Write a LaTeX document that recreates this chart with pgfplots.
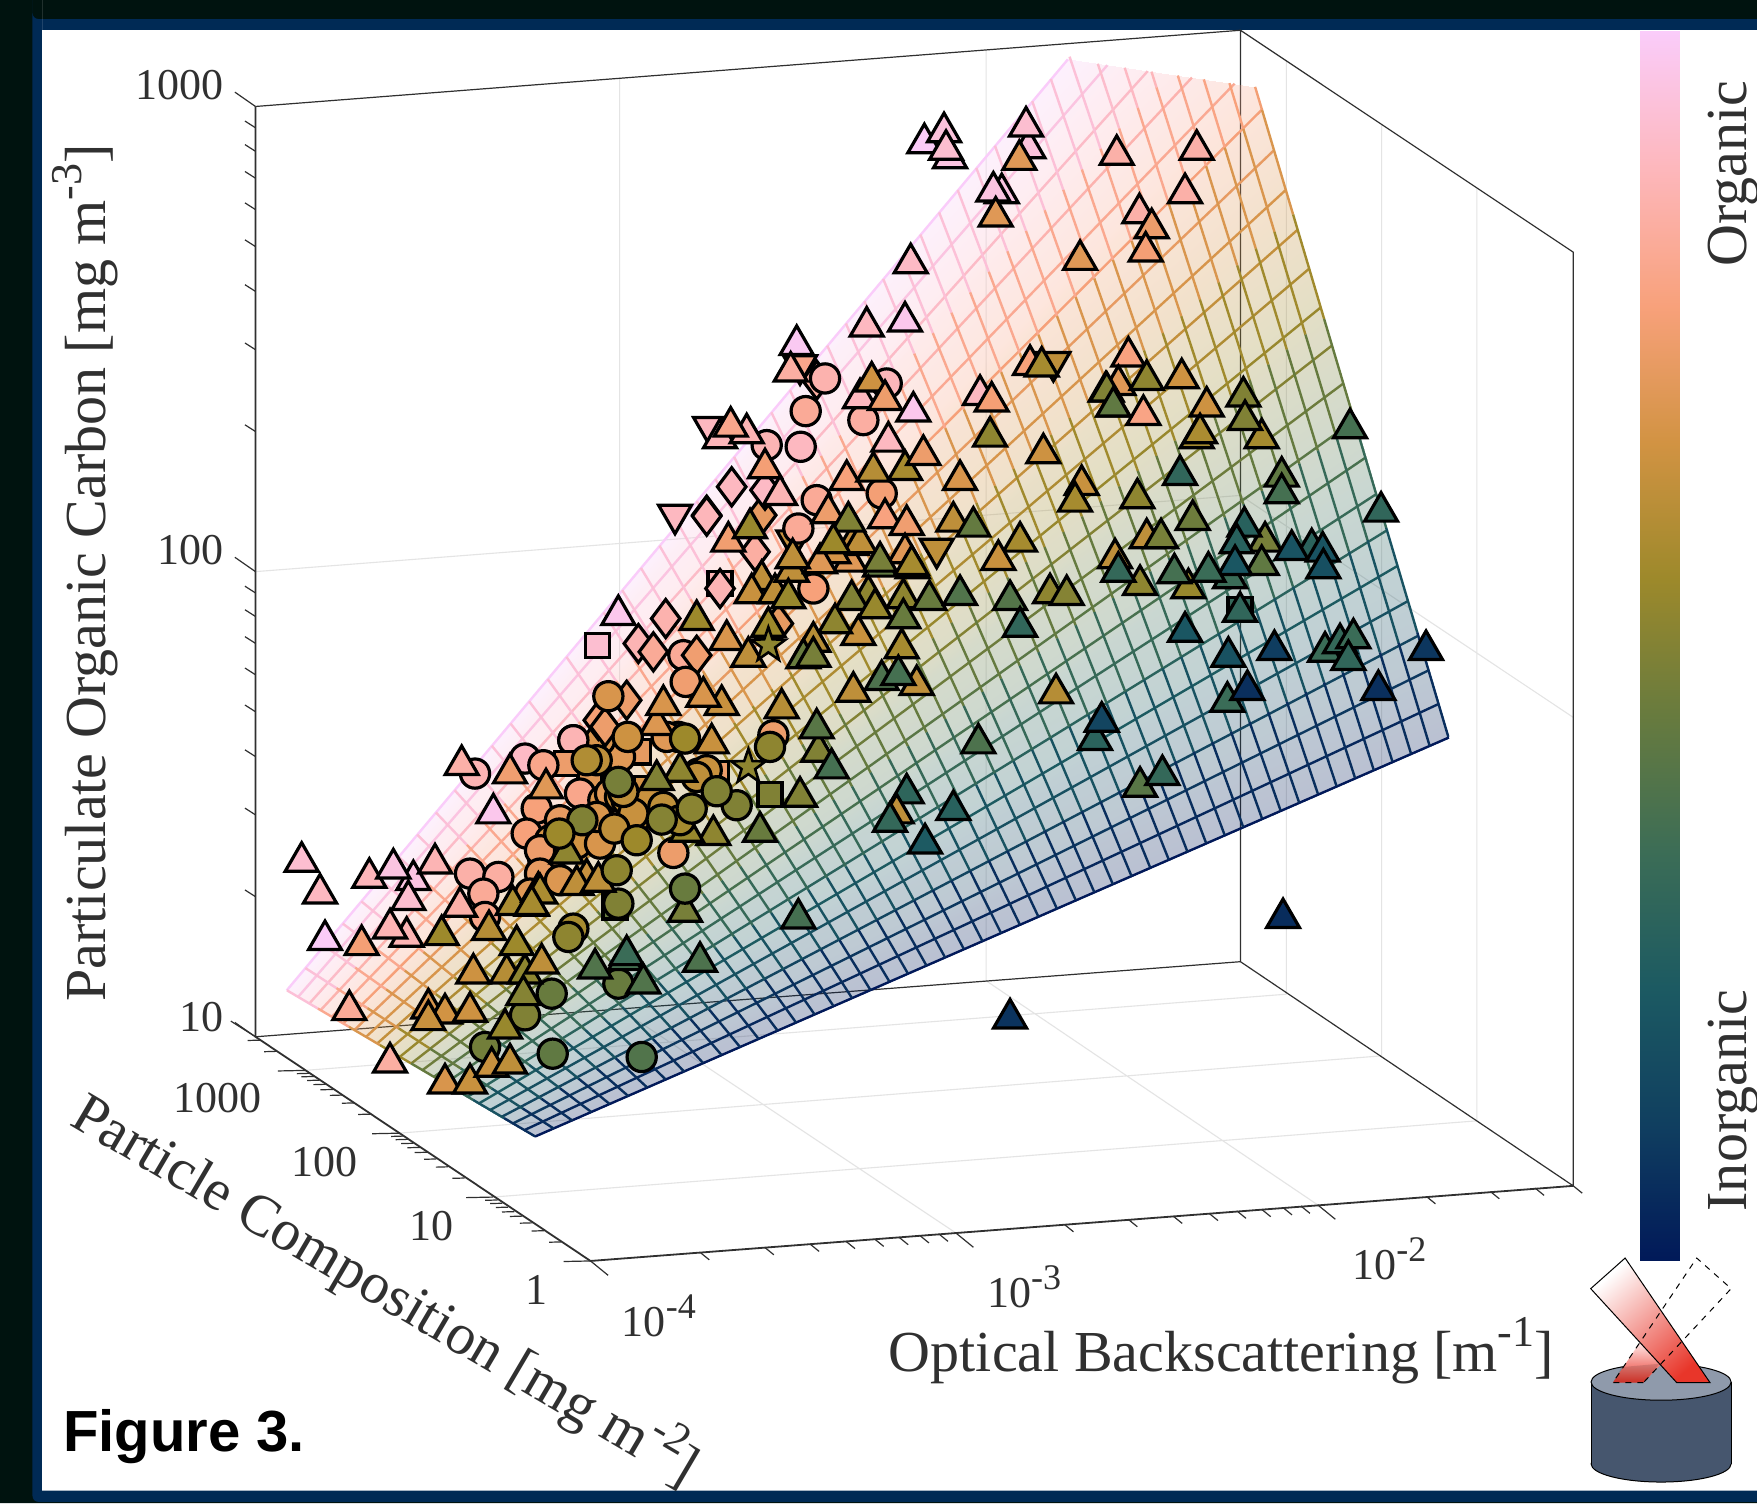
\documentclass[border=0pt]{standalone}
\usepackage{pgfplots}
\pgfplotsset{compat=1.18}
\usepackage{fontspec}
\setmainfont{Liberation Serif}
\newfontfamily\sansbold{Liberation Sans}[BoldFont={Liberation Sans Bold}]
\definecolor{ax}{HTML}{303030}
\definecolor{gridc}{HTML}{E4E4E4}
\definecolor{outer}{HTML}{00130F}
\definecolor{navyb}{HTML}{002A55}
\definecolor{cylside}{HTML}{46566E}
\definecolor{cyltop}{HTML}{8F9AAB}
\definecolor{beamred}{HTML}{E8362A}
\pgfdeclareplotmark{fstar}{%
 \pgfpathmoveto{\pgfqpoint{0pt}{9pt}}%
 \pgfpathlineto{\pgfqpoint{2.1pt}{2.9pt}}\pgfpathlineto{\pgfqpoint{8.6pt}{2.8pt}}%
 \pgfpathlineto{\pgfqpoint{3.4pt}{-1.1pt}}\pgfpathlineto{\pgfqpoint{5.3pt}{-7.3pt}}%
 \pgfpathlineto{\pgfqpoint{0pt}{-3.6pt}}\pgfpathlineto{\pgfqpoint{-5.3pt}{-7.3pt}}%
 \pgfpathlineto{\pgfqpoint{-3.4pt}{-1.1pt}}\pgfpathlineto{\pgfqpoint{-8.6pt}{2.8pt}}%
 \pgfpathlineto{\pgfqpoint{-2.1pt}{2.9pt}}\pgfpathclose\pgfusepathqfillstroke}
\pgfplotsset{
 colormap={batlow}{rgb255=(1,25,89) rgb255=(16,63,96) rgb255=(28,90,98) rgb255=(60,109,86) rgb255=(104,123,62) rgb255=(157,137,43) rgb255=(210,147,67) rgb255=(248,161,123) rgb255=(253,183,188) rgb255=(250,204,250)},
 mk/.style={scatter,only marks,forget plot,scatter src=explicit,scatter/use mapped color={draw=black,fill=mapped color}},
 tri/.style={mk,mark=triangle*,mark size=9.5pt,mark options={line width=1.6pt,yshift=-2.4pt}},
 itri/.style={mk,mark=triangle*,mark size=9.5pt,mark options={line width=1.6pt,yshift=2.4pt,rotate=180}},
 circ/.style={mk,mark=*,mark size=7.3pt,mark options={line width=1.6pt}},
 diam/.style={mk,mark=diamond*,mark size=9.5pt,mark options={line width=1.6pt}},
 squ/.style={mk,mark=square*,mark size=6pt,mark options={line width=1.6pt}},
 fst/.style={mk,mark=fstar,mark options={line width=1.3pt}},
 ul/.style={mesh,forget plot,no markers,line width=1.2pt,point meta={1-\coordindex/8}},
 ue/.style={mesh,forget plot,no markers,line width=1.2pt,point meta=explicit},
 vl/.style={mesh,forget plot,no markers,line width=1.2pt,point meta={#1}},
 grd/.style={forget plot,no markers,draw=gridc,line width=.55pt,unbounded coords=jump},
 frm/.style={forget plot,no markers,draw=ax,line width=.6pt,unbounded coords=jump},
 frt/.style={forget plot,no markers,draw=ax,line width=.9pt,unbounded coords=jump},
}
\newcommand{\mk}[4]{\addplot[#1] table[row sep=\\,x expr={(#2+\thisrow{x}/3)/1.1205},y expr={(#3+\thisrow{y}/3)/1.1205},meta expr={\thisrow{m}+.025}]{x y m\\ #4};}
\newcommand{\sz}[1]{\fontsize{#1}{#1}\selectfont}
\newcommand{\sps}[2]{\raisebox{.42em}{\sz{#1}#2}}
\begin{document}
\begin{tikzpicture}
\begin{axis}[scale only axis,width=878pt,height=751.1pt,xmin=0,xmax=1568,ymin=0,ymax=1341,y dir=reverse,axis lines=none,enlargelimits=false,colormap name=batlow,point meta min=0,point meta max=1,clip=true]
% background
\addplot[forget plot,fill=outer,draw=none] coordinates {(0,0)(1568,0)(1568,1341)(0,1341)} \closedcycle;
\addplot[forget plot,fill=navyb,draw=none,rounded corners=3pt] coordinates {(29,17)(1600,17)(1600,1340)(29,1340)} \closedcycle;
\addplot[forget plot,fill=white,draw=none] coordinates {(37.7,26.8)(1568,26.8)(1568,1330)(37.7,1330)} \closedcycle;
% grid
\addplot[grd] coordinates {(553,70)(553,900)(nan,nan)(880,44.5)(880,875)(nan,nan)(228,510)(1107,442)(1404,640)(nan,nan)(1148,54)(1148,887)(nan,nan)(1233,111)(1233,942)(nan,nan)(1318,168)(1318,1000)(nan,nan)(553,900)(853,1100)(nan,nan)(880,875)(1176,1075)(nan,nan)(272,955)(1148,887)(nan,nan)(356,1011)(1233,942)(nan,nan)(440,1068)(1318,1000)};
% frame
\addplot[frm] coordinates {(228,95)(1107,27)(1404,225)(1404,1058)(nan,nan)(1107,27)(1107,858)(1404,1058)(nan,nan)(228,925)(1107,858)};
\addplot[frt] coordinates {(228,95)(228,925)(527,1125)(1404,1058)};
\addplot[frm] coordinates {(228,95)(209.6,82.2)(nan,nan)(228,510)(209.6,497.2)(nan,nan)(228,925)(209.6,912.2)(nan,nan)(228,800)(218.6,794)(nan,nan)(228,727)(218.6,721)(nan,nan)(228,675)(218.6,669)(nan,nan)(228,635)(218.6,629)(nan,nan)(228,602)(218.6,596)(nan,nan)(228,574)(218.6,568)(nan,nan)(228,550)(218.6,544)(nan,nan)(228,529)(218.6,523)(nan,nan)(228,385)(218.6,379)(nan,nan)(228,312)(218.6,306)(nan,nan)(228,260)(218.6,254)(nan,nan)(228,220)(218.6,214)(nan,nan)(228,187)(218.6,181)(nan,nan)(228,159)(218.6,153)(nan,nan)(228,135)(218.6,129)(nan,nan)(228,114)(218.6,108)};
\addplot[frm] coordinates {(527,1125)(542.7,1137.8)(nan,nan)(853,1100)(868.7,1112.8)(nan,nan)(1176,1075)(1191.7,1087.8)(nan,nan)(1404,1058)(1412,1064.5)(nan,nan)(625,1117.5)(633,1124)(nan,nan)(682.6,1113)(690.6,1119.5)(nan,nan)(723,1110)(731,1116.5)(nan,nan)(755,1107.5)(763,1114)(nan,nan)(780.6,1105.5)(788.6,1112)(nan,nan)(802.5,1104)(810.5,1110.5)(nan,nan)(821,1102.4)(829,1108.9)(nan,nan)(838,1101)(846,1107.5)(nan,nan)(950,1092.5)(958,1099)(nan,nan)(1007,1088)(1015,1094.5)(nan,nan)(1047,1085)(1055,1091.5)(nan,nan)(1079,1082.5)(1087,1089)(nan,nan)(1104,1080.5)(1112,1087)(nan,nan)(1126,1079)(1134,1085.5)(nan,nan)(1145,1077.4)(1153,1083.9)(nan,nan)(1161,1076)(1169,1082.5)(nan,nan)(1273,1067.5)(1281,1074)(nan,nan)(1330,1063)(1338,1069.5)(nan,nan)(1370,1060)(1378,1066.5)};
\addplot[frm] coordinates {(527,1125)(503,1125.5)(nan,nan)(440,1068)(416,1068.5)(nan,nan)(356,1011)(332,1011.5)(nan,nan)(272,955)(248,955.5)(nan,nan)(228,925)(206,911)(nan,nan)(501,1108)(490,1108.3)(nan,nan)(485.5,1098)(474.5,1098.3)(nan,nan)(475,1091)(464,1091.3)(nan,nan)(466,1085)(455,1085.3)(nan,nan)(459,1081)(448,1081.3)(nan,nan)(453.5,1077)(442.5,1077.3)(nan,nan)(448.4,1073.5)(437.4,1073.8)(nan,nan)(444,1070.6)(433,1070.9)(nan,nan)(414.7,1051)(403.7,1051.3)(nan,nan)(400,1041)(389,1041.3)(nan,nan)(389.4,1034)(378.4,1034.3)(nan,nan)(381,1028)(370,1028.3)(nan,nan)(374.6,1023.7)(363.6,1024)(nan,nan)(369,1020)(358,1020.3)(nan,nan)(364,1016.5)(353,1016.8)(nan,nan)(360,1013.6)(349,1013.9)(nan,nan)(330.7,994)(319.7,994.3)(nan,nan)(316,984)(305,984.3)(nan,nan)(305.4,977)(294.4,977.3)(nan,nan)(297,972)(286,972.3)(nan,nan)(290.6,967.4)(279.6,967.7)(nan,nan)(285,963.7)(274,964)(nan,nan)(280,960.4)(269,960.7)(nan,nan)(276,957.6)(265,957.9)(nan,nan)(246.7,938)(235.7,938.3)(nan,nan)(232,928)(221,928.3)};
% markers under the surface
\mk{squ}{520}{560}{355 575 .7\\ 750 703 .47\\ 380 685 .65\\ 590 640 .72\\ 285 1040 .42\\ 600 70 .85\\ 210 650 .68\\}
\mk{squ}{1000}{380}{720 688 .28\\}
\mk{circ}{240}{780}{690 280 .83\\ 775 290 .82\\ 730 340 .8\\ 735 410 .78\\ 935 640 .42\\ 855 705 .47\\ 735 800 .44\\ 938 820 .40\\ 1205 830 .36\\ 1135 610 .42\\}
\mk{circ}{520}{560}{460 878 .72\\ 295 1030 .47\\ 650 735 .47\\ 50 745 .75\\ 20 820 .75\\ 160 540 .82\\ 490 285 .8\\ 760 525 .72\\ 880 85 .75\\ 535 640 .62\\ 180 700 .78\\ 475 530 .68\\ 160 1105 .55\\ 145 1130 .5\\ 100 950 .63\\ 70 900 .67\\ 90 840 .65\\ 350 770 .6\\ 250 720 .66\\ 270 560 .72\\ 120 780 .7\\ 100 880 .7\\ 60 870 .72\\ 60 940 .7\\ 120 960 .67\\ 30 1000 .68\\ 200 830 .62\\ 170 850 .64\\ 240 850 .66\\ 300 590 .68\\ 240 540 .66\\}
\mk{circ}{700}{300}{545 580 .74\\}
\mk{circ}{430}{700}{285 175 .88\\ 430 120 .85\\}
\mk{fst}{520}{560}{685 620 .5\\}
\mk{itri}{700}{300}{710 760 .6\\ 1060 200 .6\\}
\mk{tri}{240}{780}{328 675 .80\\ 520 285 .93\\ 505 345 .90\\ 500 455 .85\\ 660 365 .83\\ 760 85 .95\\ 615 895 .66\\ 690 895 .62\\ 565 670 .66\\ 615 685 .64\\ 565 705 .62\\ 690 680 .63\\ 700 565 .63\\ 800 565 .58\\ 855 565 .50\\ 905 535 .60\\ 850 630 .48\\ 795 730 .52\\ 755 845 .62\\ 810 835 .6\\ 1065 550 .36\\ 1155 525 .33\\ 1210 595 .36\\}
\mk{tri}{520}{560}{295 150 .95\\ 605 420 .62\\ 575 535 .62\\ 785 430 .58\\ 840 695 .47\\ 720 800 .42\\ 580 810 .5\\ 895 560 .47\\ 1160 685 .26\\ 1130 745 .6\\ 1110 770 .28\\ 1215 835 .2\\ 835 1060 .33\\ 495 1040 .45\\ 540 1190 .35\\ 320 1170 .3\\ 1145 250 .55\\ 1015 210 .62\\ 1190 360 .6\\ 1000 380 .6\\ 200 940 .62\\ 170 960 .6\\ 500 800 .52\\}
\mk{tri}{700}{300}{615 50 .95\\ 640 320 .95\\ 565 410 .87\\ 840 270 .87\\ 780 525 .66\\ 760 650 .6\\ 1030 445 .63\\ 1145 540 .62\\ 1125 590 .55\\ 555 640 .76\\ 620 660 .73\\ 615 745 .68\\ 960 710 .55\\ 895 765 .62\\ 1050 865 .5\\ 1100 870 .48\\ 990 180 .75\\ 1245 760 .6\\ 450 770 .68\\}
\mk{tri}{880}{40}{445 310 .92\\ 365 445 .93\\ 950 315 .83\\ 915 445 .83\\ 778 505 .83\\ 745 935 .76\\ 790 1110 .77\\ 715 1020 .68\\ 905 1000 .63\\ 980 1085 .63\\ 1145 1180 .55\\}
\mk{tri}{1000}{380}{590 160 .55\\ 600 145 .56\\ 845 275 .4\\ 412 340 .5\\ 578 405 .43\\ 440 460 .6\\ 483 460 .45\\ 420 600 .5\\ 565 610 .52\\ 690 580 .3\\ 795 470 .45\\ 785 540 .4\\ 935 490 .25\\ 720 680 .27\\ 975 800 .3\\ 1020 775 .28\\ 1060 760 .3\\ 1045 825 .27\\ 682 950 .3\\ 285 1065 .25\\ 168 925 .58\\ 420 1205 .38\\ 487 1170 .28\\ 355 560 .28\\ 1143 380 .27\\}
\mk{tri}{920}{690}{175 145 .35\\}
% surface fill
\addplot[surf,forget plot,shader=interp,opacity=.27,mesh/rows=9,mesh/cols=2,point meta=explicit] table[row sep=\\,meta=m]{x y m\\ 256 883.5 1\\ 953 53 1\\ 276 895.4 .909\\ 1024.2 63.5 .909\\ 301 910 .795\\ 1120 77.5 .795\\ 336.5 931 .636\\ 1158 205 .636\\ 367 949 .5\\ 1189 308 .5\\ 397 967 .364\\ 1219 408 .364\\ 427 985 .227\\ 1247 505 .227\\ 457 1002.5 .091\\ 1275 598 .091\\ 477.5 1014 0\\ 1293 658 0\\};
% constant-colour mesh lines
\addplot[vl=1] coordinates {(256,883.5)(953,53)};
\addplot[vl=.955] coordinates {(266,889.5)(988.2,58.2)};
\addplot[vl=.909] coordinates {(276,895.4)(1024.2,63.5)};
\addplot[vl=.864] coordinates {(286,901.4)(1063.7,69.2)};
\addplot[vl=.818] coordinates {(296,907.3)(1101.7,74.7)};
\addplot[vl=.773] coordinates {(306,913.3)(1126,98)};
\addplot[vl=.727] coordinates {(316,919.2)(1137,134)};
\addplot[vl=.682] coordinates {(326.5,925.2)(1148,169)};
\addplot[vl=.636] coordinates {(336.5,931.1)(1158,205)};
\addplot[vl=.591] coordinates {(346.6,937.1)(1168,240)};
\addplot[vl=.545] coordinates {(356.7,943)(1179,274)};
\addplot[vl=.5] coordinates {(366.8,949)(1189,308)};
\addplot[vl=.455] coordinates {(376.8,954.9)(1199,342)};
\addplot[vl=.409] coordinates {(386.9,960.9)(1209,375)};
\addplot[vl=.364] coordinates {(397,966.8)(1219,408)};
\addplot[vl=.318] coordinates {(407,972.8)(1228,441)};
\addplot[vl=.273] coordinates {(417,978.7)(1238,473)};
\addplot[vl=.227] coordinates {(427,984.7)(1247,505)};
\addplot[vl=.182] coordinates {(437,990.6)(1257,536)};
\addplot[vl=.136] coordinates {(447.3,996.6)(1266,567)};
\addplot[vl=.091] coordinates {(457.4,1002.5)(1275,598)};
\addplot[vl=.045] coordinates {(467.5,1008.5)(1284,628)};
\addplot[vl=0] coordinates {(477.5,1014)(1293,658)};
% cross mesh lines
\addplot[ul] coordinates {(256,883.5)(283.7,899.8)(311.4,916.1)(339.1,932.4)(366.8,948.7)(394.5,965)(422.2,981.3)(449.9,997.6)(477.6,1013.9)};
\addplot[ul] coordinates {(272.6,863.7)(300.3,881.6)(328,899.5)(355.7,917.4)(383.4,935.3)(411.1,953.2)(438.8,971.1)(466.5,989)(494.2,1006.9)};
\addplot[ul] coordinates {(289.3,843.8)(317,863.3)(344.7,882.8)(372.4,902.3)(400.1,921.8)(427.8,941.3)(455.5,960.8)(483.2,980.3)(510.9,999.8)};
\addplot[ul] coordinates {(305.9,824)(333.6,845)(361.3,866)(389,887)(416.7,908)(444.4,929)(472.1,950)(499.8,971)(527.5,992)};
\addplot[ul] coordinates {(322.5,804.2)(350.2,826.8)(377.9,849.4)(405.6,872)(433.3,894.6)(461,917.2)(488.7,939.8)(516.4,962.4)(544.1,985)};
\addplot[ul] coordinates {(339.2,784.4)(366.9,808.6)(394.6,832.8)(422.3,857)(450,881.2)(477.7,905.4)(505.4,929.6)(533.1,953.8)(560.8,978)};
\addplot[ul] coordinates {(355.8,764.5)(383.5,790.2)(411.2,815.9)(438.9,841.6)(466.6,867.3)(494.3,893)(522,918.7)(549.7,944.4)(577.4,970.1)};
\addplot[ul] coordinates {(372.4,744.7)(400.1,772)(427.8,799.3)(455.5,826.6)(483.2,853.9)(510.9,881.2)(538.6,908.5)(566.3,935.8)(594,963.1)};
\addplot[ul] coordinates {(389,724.9)(416.7,753.8)(444.4,782.7)(472.1,811.6)(499.8,840.5)(527.5,869.4)(555.2,898.3)(582.9,927.2)(610.6,956.1)};
\addplot[ul] coordinates {(405.7,705)(433.4,735.4)(461.1,765.8)(488.8,796.2)(516.5,826.6)(544.2,857)(571.9,887.4)(599.6,917.8)(627.3,948.2)};
\addplot[ul] coordinates {(422.3,685.2)(450,717.2)(477.7,749.2)(505.4,781.2)(533.1,813.2)(560.8,845.2)(588.5,877.2)(616.2,909.2)(643.9,941.2)};
\addplot[ul] coordinates {(438.9,665.4)(466.6,699)(494.3,732.6)(522,766.2)(549.7,799.8)(577.4,833.4)(605.1,867)(632.8,900.6)(660.5,934.2)};
\addplot[ul] coordinates {(455.6,645.5)(483.3,680.7)(511,715.9)(538.7,751.1)(566.4,786.3)(594.1,821.5)(621.8,856.7)(649.5,891.9)(677.2,927.1)};
\addplot[ul] coordinates {(472.2,625.7)(499.9,662.4)(527.6,699.1)(555.3,735.8)(583,772.5)(610.7,809.2)(638.4,845.9)(666.1,882.6)(693.8,919.3)};
\addplot[ul] coordinates {(488.8,605.9)(516.5,644.2)(544.2,682.5)(571.9,720.8)(599.6,759.1)(627.3,797.4)(655,835.7)(682.7,874)(710.4,912.3)};
\addplot[ul] coordinates {(505.5,586.1)(533.2,626)(560.9,665.9)(588.6,705.8)(616.3,745.7)(644,785.6)(671.7,825.5)(699.4,865.4)(727.1,905.3)};
\addplot[ul] coordinates {(522.1,566.2)(549.8,607.6)(577.5,649)(605.2,690.4)(632.9,731.8)(660.6,773.2)(688.3,814.6)(716,856)(743.7,897.4)};
\addplot[ul] coordinates {(538.7,546.4)(566.4,589.4)(594.1,632.4)(621.8,675.4)(649.5,718.4)(677.2,761.4)(704.9,804.4)(732.6,847.4)(760.3,890.4)};
\addplot[ul] coordinates {(555.3,526.6)(583,571.2)(610.7,615.8)(638.4,660.4)(666.1,705)(693.8,749.6)(721.5,794.2)(749.2,838.8)(776.9,883.4)};
\addplot[ul] coordinates {(572,506.7)(599.7,552.8)(627.4,598.9)(655.1,645)(682.8,691.1)(710.5,737.2)(738.2,783.3)(765.9,829.4)(793.6,875.5)};
\addplot[ul] coordinates {(588.6,486.9)(616.3,534.6)(644,582.3)(671.7,630)(699.4,677.7)(727.1,725.4)(754.8,773.1)(782.5,820.8)(810.2,868.5)};
\addplot[ul] coordinates {(605.2,467.1)(632.9,516.4)(660.6,565.7)(688.3,615)(716,664.3)(743.7,713.6)(771.4,762.9)(799.1,812.2)(826.8,861.5)};
\addplot[ul] coordinates {(621.9,447.2)(649.6,498.1)(677.3,549)(705,599.9)(732.7,650.8)(760.4,701.7)(788.1,752.6)(815.8,803.5)(843.5,854.4)};
\addplot[ul] coordinates {(638.5,427.4)(666.2,479.8)(693.9,532.2)(721.6,584.6)(749.3,637)(777,689.4)(804.7,741.8)(832.4,794.2)(860.1,846.6)};
\addplot[ul] coordinates {(655.1,407.6)(682.8,461.6)(710.5,515.6)(738.2,569.6)(765.9,623.6)(793.6,677.6)(821.3,731.6)(849,785.6)(876.7,839.6)};
\addplot[ul] coordinates {(671.8,387.8)(699.5,443.4)(727.2,499)(754.9,554.6)(782.6,610.2)(810.3,665.8)(838,721.4)(865.7,777)(893.4,832.6)};
\addplot[ul] coordinates {(688.4,367.9)(716.1,425)(743.8,482.1)(771.5,539.2)(799.2,596.3)(826.9,653.4)(854.6,710.5)(882.3,767.6)(910,824.7)};
\addplot[ul] coordinates {(705,348.1)(732.7,406.8)(760.4,465.5)(788.1,524.2)(815.8,582.9)(843.5,641.6)(871.2,700.3)(898.9,759)(926.6,817.7)};
\addplot[ul] coordinates {(721.6,328.3)(749.3,388.6)(777,448.9)(804.7,509.2)(832.4,569.5)(860.1,629.8)(887.8,690.1)(915.5,750.4)(943.2,810.7)};
\addplot[ul] coordinates {(738.3,308.4)(766,370.2)(793.7,432)(821.4,493.8)(849.1,555.6)(876.8,617.4)(904.5,679.2)(932.2,741)(959.9,802.8)};
\addplot[ul] coordinates {(754.9,288.6)(782.6,352)(810.3,415.4)(838,478.8)(865.7,542.2)(893.4,605.6)(921.1,669)(948.8,732.4)(976.5,795.8)};
\addplot[ul] coordinates {(771.5,268.8)(799.2,333.8)(826.9,398.8)(854.6,463.8)(882.3,528.8)(910,593.8)(937.7,658.8)(965.4,723.8)(993.1,788.8)};
\addplot[ul] coordinates {(788.2,248.9)(815.9,315.5)(843.6,382.1)(871.3,448.7)(899,515.3)(926.7,581.9)(954.4,648.5)(982.1,715.1)(1009.8,781.7)};
\addplot[ul] coordinates {(804.8,229.1)(832.5,297.2)(860.2,365.3)(887.9,433.4)(915.6,501.5)(943.3,569.6)(971,637.7)(998.7,705.8)(1026.4,773.9)};
\addplot[ul] coordinates {(821.4,209.3)(849.1,279)(876.8,348.7)(904.5,418.4)(932.2,488.1)(959.9,557.8)(987.6,627.5)(1015.3,697.2)(1043,766.9)};
\addplot[ul] coordinates {(838.1,189.5)(865.8,260.8)(893.5,332.1)(921.2,403.4)(948.9,474.7)(976.6,546)(1004.3,617.3)(1032,688.6)(1059.7,759.9)};
\addplot[ul] coordinates {(854.7,169.6)(882.4,242.4)(910.1,315.2)(937.8,388)(965.5,460.8)(993.2,533.6)(1020.9,606.4)(1048.6,679.2)(1076.3,752)};
\addplot[ul] coordinates {(871.3,149.8)(899,224.2)(926.7,298.6)(954.4,373)(982.1,447.4)(1009.8,521.8)(1037.5,596.2)(1065.2,670.6)(1092.9,745)};
\addplot[ul] coordinates {(887.9,130)(915.6,206)(943.3,282)(971,358)(998.7,434)(1026.4,510)(1054.1,586)(1081.8,662)(1109.5,738)};
\addplot[ul] coordinates {(904.6,110.1)(932.3,187.6)(960,265.1)(987.7,342.6)(1015.4,420.1)(1043.1,497.6)(1070.8,575.1)(1098.5,652.6)(1126.2,730.1)};
\addplot[ul] coordinates {(921.2,90.3)(948.9,169.4)(976.6,248.5)(1004.3,327.6)(1032,406.7)(1059.7,485.8)(1087.4,564.9)(1115.1,644)(1142.8,723.1)};
\addplot[ul] coordinates {(937.8,70.5)(965.5,151.2)(993.2,231.9)(1020.9,312.6)(1048.6,393.3)(1076.3,474)(1104,554.7)(1131.7,635.4)(1159.4,716.1)};
\addplot[ul] coordinates {(954.5,50.6)(982.2,132.8)(1009.9,215)(1037.6,297.2)(1065.3,379.4)(1093,461.6)(1120.7,543.8)(1148.4,626)(1176.1,708.2)};
\addplot[ue] coordinates {(979.7,56.9)[.961](998.8,114.6)[.875](1026.5,198.4)[.75](1054.2,282.2)[.625](1081.9,366)[.5](1109.6,449.8)[.375](1137.3,533.6)[.25](1165,617.4)[.125](1192.7,701.2)[0]};
\addplot[ue] coordinates {(1003.7,60.4)[.928](1015.4,96.4)[.875](1043.1,181.8)[.75](1070.8,267.2)[.625](1098.5,352.6)[.5](1126.2,438)[.375](1153.9,523.4)[.25](1181.6,608.8)[.125](1209.3,694.2)[0]};
\addplot[ue] coordinates {(1027.6,63.9)[.895](1032.1,78.1)[.875](1059.8,165.1)[.75](1087.5,252.1)[.625](1115.2,339.1)[.5](1142.9,426.1)[.375](1170.6,513.1)[.25](1198.3,600.1)[.125](1226,687.1)[0]};
\addplot[ue] coordinates {(1051.1,67.4)[.864](1076.4,148.3)[.75](1104.1,236.8)[.625](1131.8,325.3)[.5](1159.5,413.8)[.375](1187.2,502.3)[.25](1214.9,590.8)[.125](1242.6,679.3)[0]};
\addplot[ue] coordinates {(1074.3,70.8)[.835](1093,131.7)[.75](1120.7,221.8)[.625](1148.4,311.9)[.5](1176.1,402)[.375](1203.8,492.1)[.25](1231.5,582.2)[.125](1259.2,672.3)[0]};
\addplot[ue] coordinates {(1097.2,74.2)[.806](1109.6,115.1)[.75](1137.3,206.8)[.625](1165,298.5)[.5](1192.7,390.2)[.375](1220.4,481.9)[.25](1248.1,573.6)[.125](1275.8,665.3)[0]};
\addplot[ue] coordinates {(1120.1,77.5)[.778](1126.3,98.2)[.75](1154,191.4)[.625](1181.7,284.6)[.5](1209.4,377.8)[.375](1237.1,471)[.25](1264.8,564.2)[.125](1292.5,657.4)[0]};
% markers over the surface
\mk{squ}{520}{560}{233 255 .9\\ 140 610 .72\\}
\mk{diam}{520}{560}{437 175 .84\\ 355 250 .85\\ 400 275 .8\\ 530 285 .73\\ 320 420 .72\\ 235 480 .74\\ 255 500 .72\\ 600 85 .85\\ 775 190 .7\\}
\mk{diam}{700}{300}{350 240 .82\\ 95 560 .87\\ 20 645 .86\\ 185 645 .7\\ 165 755 .82\\ 195 570 .88\\}
\mk{diam}{600}{400}{320 348 .86\\}
\mk{itri}{700}{300}{30 395 .87\\ 300 210 .78\\ 280 735 .62\\}
\mk{itri}{600}{400}{225 358 .87\\}
\mk{circ}{700}{300}{375 235 .84\\ 317 333 .8\\ 490 360 .82\\ 302 440 .87\\ 200 435 .85\\ 560 250 .86\\ 350 600 .8\\ 295 685 .8\\}
\mk{circ}{430}{700}{135 220 .85\\}
\mk{circ}{520}{560}{70 615 .78\\ 440 530 .68\\ 497 365 .73\\ 265 408 .66\\ 560 630 .62\\ 530 650 .6\\ 270 700 .68\\ 300 710 .62\\ 320 720 .6\\ 390 720 .62\\ 430 740 .6\\ 340 760 .62\\ 230 770 .66\\ 480 780 .55\\ 310 695 .6\\ 283 805 .6\\ 230 600 .6\\}
\mk{tri}{240}{780}{185 230 .90\\ 240 325 .87\\ 388 278 .86\\ 460 250 .93\\ 585 235 .85\\ 255 465 .97\\ 450 430 .85\\ 365 480 .74\\ 605 450 .53\\ 747 435 .58\\ 830 480 .53\\ 818 360 .56\\ 875 362 .55\\ 895 320 .57\\ 450 832 .82\\}
\mk{tri}{430}{700}{95 180 .83\\ 240 205 .73\\}
\mk{tri}{520}{560}{725 45 .6\\ 695 85 .62\\ 765 85 .6\\ 815 20 .6\\ 805 100 .52\\ 1080 5 .4\\ 1178 10 .55\\ 1045 90 .5\\ 1150 100 .5\\ 995 105 .47\\ 1150 160 .42\\ 1228 105 .42\\ 1065 130 .52\\ 945 175 .5\\ 745 185 .53\\ 530 165 .53\\ 620 225 .66\\ 685 275 .6\\ 410 480 .67\\ 430 420 .66\\ 550 395 .66\\ 480 620 .5\\ 410 645 .47\\ 880 230 .58\\ 850 280 .42\\ 880 275 .45\\ 140 865 .5\\ 78 670 .68\\ 60 985 .56\\ 35 1020 .55\\ 235 950 .6\\ 1085 345 .35\\ 1135 330 .33\\ 890 490 .38\\ 935 610 .33\\}
\mk{tri}{700}{300}{290 120 .96\\ 500 65 .87\\ 272 200 .82\\ 480 280 .87\\ 515 230 .63\\ 555 285 .72\\ 60 400 .86\\ 140 385 .85\\ 92 365 .78\\ 195 490 .74\\ 875 290 .74\\ 870 395 .5\\ 240 570 .85\\ 440 525 .75\\ 520 500 .58\\ 615 495 .55\\ 670 450 .72\\ 820 665 .41\\ 385 625 .72\\ 455 720 .62\\ 480 715 .6\\ 400 745 .65\\ 360 775 .68\\ 445 650 .47\\ 400 715 .53\\ 85 710 .73\\ 150 670 .52\\ 278 760 .6\\ 540 770 .45\\ 635 780 .55\\ 1025 185 .55\\ 780 870 .36\\ 930 885 .37\\ 960 965 .27\\ 1217 260 .48\\ 1240 305 .4\\}
\mk{tri}{880}{40}{133 295 .97\\ 192 262 .92\\ 210 340 .93\\ 198 315 .9\\ 438 245 .9\\ 418 345 .68\\ 340 440 .93\\ 347 515 .68\\ 92 655 .88\\ 710 330 .83\\ 600 645 .68\\ 815 550 .72\\ 797 620 .74\\ 680 1040 .47\\ 800 1005 .5\\ 700 1085 .4\\ 1090 1055 .47\\ 1095 1125 .47\\}
\mk{tri}{1000}{380}{1050 130 .33\\ 540 270 .27\\ 845 325 .33\\ 733 425 .24\\ 710 475 .24\\ 705 540 .18\\ 875 495 .17\\ 968 500 .17\\ 970 550 .15\\ 625 560 .3\\ 523 565 .33\\ 555 740 .18\\ 685 815 .16\\ 823 795 .08\\ 742 915 .04\\ 1135 915 .04\\ 1278 795 .06\\ 305 1010 .11\\}
\mk{tri}{920}{690}{100 345 .24\\}
\mk{tri}{970}{950}{120 190 .05\\}
\mk{tri}{1200}{880}{249 99 .03\\}
\mk{fst}{520}{560}{745 255 .5\\}
\mk{circ}{520}{560}{323 530 .63\\ 495 535 .53\\ 200 600 .57\\ 295 665 .45\\ 590 693 .47\\ 515 745 .49\\ 425 778 .48\\ 187 780 .47\\ 350 840 .53\\ 118 820 .53\\ 290 930 .5\\ 750 560 .5\\ 495 985 .42\\}
% colour bar
\addplot[surf,forget plot,shader=interp,mesh/rows=10,mesh/cols=2,point meta=explicit] table[row sep=\\,meta=m]{x y m\\ 1464 28 1\\ 1498.5 28 1\\ 1464 149.9 .889\\ 1498.5 149.9 .889\\ 1464 271.8 .778\\ 1498.5 271.8 .778\\ 1464 393.7 .667\\ 1498.5 393.7 .667\\ 1464 515.6 .556\\ 1498.5 515.6 .556\\ 1464 637.4 .444\\ 1498.5 637.4 .444\\ 1464 759.3 .333\\ 1498.5 759.3 .333\\ 1464 881.2 .222\\ 1498.5 881.2 .222\\ 1464 1003.1 .111\\ 1498.5 1003.1 .111\\ 1464 1125 0\\ 1498.5 1125 0\\};
% pictogram
\fill[cylside] (1420,1233) rectangle (1545,1306);
\draw[fill=cylside,line width=.5pt] (1482.4,1306) ellipse [x radius=35pt,y radius=9.1pt];
\fill[cylside] (1420.4,1233) rectangle (1544.6,1306);
\draw[line width=.5pt] (1420,1233)--(1420,1306) (1545,1233)--(1545,1306);
\draw[fill=cyltop,line width=.5pt] (1482.4,1233) ellipse [x radius=35pt,y radius=9.1pt];
\shade[top color=red!8,bottom color=beamred] (1463.7,1197.3)--(1482.7,1216.7)--(1466.6,1233.6)--(1439.3,1233.6)--cycle;
\fill[fill=black,fill opacity=.12] (1447.3,1219.7)--(1480.9,1216.7)--(1466.6,1233.6)--(1439.3,1233.6)--cycle;
\shade[top color=white,bottom color=beamred,shading angle=42] (1419.6,1149.7)--(1450.3,1122.4)--(1526.1,1233.6)--(1496.4,1233.6)--cycle;
\draw[line width=.5pt] (1419.6,1149.7)--(1450.3,1122.4)--(1526.1,1233.6)--(1496.4,1233.6)--cycle;
\draw[dashed,line width=.5pt] (1466.6,1233.6)--(1439.3,1233.6)--(1514.2,1122.4)--(1544.9,1149.7)--cycle;
% text
\begin{scope}[text=ax]
\node[anchor=east] at (205.5,76) {\sz{22}1000};
\node[anchor=east] at (205.5,491) {\sz{22}100};
\node[anchor=east] at (205.5,907) {\sz{22}10};
\node[anchor=east] at (240,980) {\sz{22}1000};
\node[anchor=east] at (325,1037) {\sz{22}100};
\node[anchor=east] at (411,1094) {\sz{22}10};
\node[anchor=east] at (495,1151) {\sz{22}1};
\node at (588,1174) {\sz{22}10\sps{18}{-4}};
\node at (914,1148) {\sz{22}10\sps{18}{-3}};
\node at (1240,1123) {\sz{22}10\sps{18}{-2}};
\node[rotate=90] at (76,511) {\sz{29}Particulate Organic Carbon [mg m\sps{22}{-3}]};
\node at (1090,1205) {\sz{29}Optical Backscattering [m\sps{22}{-1}]};
\node[rotate=-30.5,overlay] at (345,1149) {\sz{29}Particle Composition [mg m\sps{22}{-2}]};
\node[rotate=90,overlay] at (1547,155) {\sz{29}Organic};
\node[rotate=90,overlay] at (1547,982) {\sz{29}Inorganic};
\end{scope}
\node[anchor=west,text=black] at (50,1282) {\sansbold\bfseries\sz{29}Figure 3.};
\end{axis}
\end{tikzpicture}
\end{document}
